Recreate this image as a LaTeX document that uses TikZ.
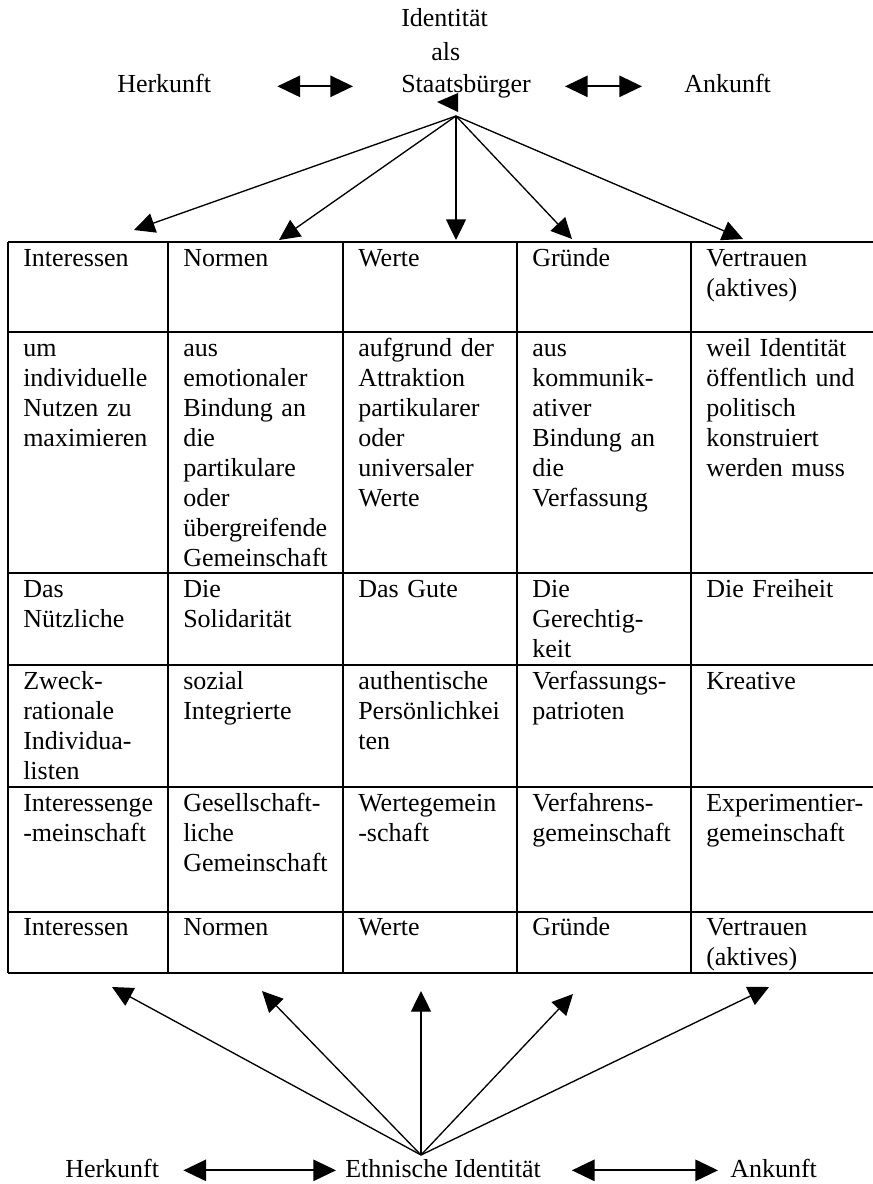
\documentclass[tikz,border=0pt]{standalone}
\usepackage{fontspec}
\setmainfont{Liberation Serif}
\usetikzlibrary{arrows.meta}
\newcommand{\txtsize}{\fontsize{19.5}{22.5}\selectfont}
\tikzset{
  lbl/.style={font=\txtsize, inner sep=0pt, anchor=base west, text height=14pt, text depth=4pt},
  tabcell/.style={font=\txtsize, inner sep=0pt, anchor=base west, text width=125pt, align=left},
  tabline/.style={line width=1.4pt},
  fan/.style={line width=1pt, -{Triangle[length=15.5pt,width=15pt]}},
  dblarrow/.style={line width=1.3pt, {Triangle[length=17pt,width=16pt]}-{Triangle[length=17pt,width=16pt]}}
}
\begin{document}
\begin{tikzpicture}[x=0.75pt,y=0.75pt,yscale=-1,xscale=1]
                \useasboundingbox (0,0) rectangle (872,1184);
                \node[lbl] (idA) at (401,27) {Identität};
                \node[lbl] (idB) at (431,61) {als};
                \node[lbl] (idC) at (401,93) {Staatsbürger};
                \node[lbl] (herkTop) at (117,93) {Herkunft};
                \node[lbl] (ankTop) at (684,93) {Ankunft};
                \draw[dblarrow, shorten <=49.5pt, shorten >=36pt] (herkTop.east) -- (idC.west);
                \draw[dblarrow, shorten <=25.5pt, shorten >=31.5pt] (idC.east) -- (ankTop.west);
                \fill (437,102) -- (458,93) -- (458,112) -- cycle;
                \coordinate (hubTop) at (456,116);
                \coordinate (hi1) at (134,230);
                \coordinate (hi2) at (279,240);
                \coordinate (hi3) at (456,240);
                \coordinate (hi4) at (572,239);
                \coordinate (hi5) at (743,239);
                \draw[fan] (hubTop) -- (hi1);
                \draw[fan] (hubTop) -- (hi2);
                \draw[fan] (hubTop) -- (hi3);
                \draw[fan] (hubTop) -- (hi4);
                \draw[fan] (hubTop) -- (hi5);
                \draw[tabline] (8,242) -- (880,242) (8,332) -- (880,332) (8,573) -- (880,573) (8,665) -- (880,665) (8,787) -- (880,787) (8,912) -- (880,912) (8,973) -- (880,973);
                \draw[tabline] (8,242) -- (8,973) (168,242) -- (168,973) (343,242) -- (343,973) (517,242) -- (517,973) (691,242) -- (691,973);
                \node[tabcell] (intA) at (23,266) {Interessen};
                \node[tabcell] (normA) at (183,266) {Normen};
                \node[tabcell] (wertA) at (358,266) {Werte};
                \node[tabcell] (grundA) at (532,266) {Gründe};
                \node[tabcell] (vertA) at (706,266) {Vertrauen\\(aktives)};
                \node[tabcell] (intB) at (23,356) {um\\individuelle\\Nutzen zu\\maximieren};
                \node[tabcell] (normB) at (183,356) {aus\\emotionaler\\Bindung an\\die\\partikulare\\oder\\übergreifende\\Gemeinschaft};
                \node[tabcell] (wertB) at (358,356) {aufgrund der\\Attraktion\\partikularer\\oder\\universaler\\Werte};
                \node[tabcell] (grundB) at (532,356) {aus\\kommunik-\\ativer\\Bindung an\\die\\Verfassung};
                \node[tabcell] (vertB) at (706,356) {weil Identität\\öffentlich und\\politisch\\konstruiert\\werden muss};
                \node[tabcell] (intC) at (23,597) {Das\\Nützliche};
                \node[tabcell] (normC) at (183,597) {Die\\Solidarität};
                \node[tabcell] (wertC) at (358,597) {Das Gute};
                \node[tabcell] (grundC) at (532,597) {Die\\Gerechtig-\\keit};
                \node[tabcell] (vertC) at (706,597) {Die Freiheit};
                \node[tabcell] (intD) at (23,689) {Zweck-\\rationale\\Individua-\\listen};
                \node[tabcell] (normD) at (183,689) {sozial\\Integrierte};
                \node[tabcell] (wertD) at (358,689) {authentische\\Persönlichkei\\ten};
                \node[tabcell] (grundD) at (532,689) {Verfassungs-\\patrioten};
                \node[tabcell] (vertD) at (706,689) {Kreative};
                \node[tabcell] (intE) at (23,811) {Interessenge\\-meinschaft};
                \node[tabcell] (normE) at (183,811) {Gesellschaft-\\liche\\Gemeinschaft};
                \node[tabcell] (wertE) at (358,811) {Wertegemein\\-schaft};
                \node[tabcell] (grundE) at (532,811) {Verfahrens-\\gemeinschaft};
                \node[tabcell] (vertE) at (706,811) {Experimentier-\\gemeinschaft};
                \node[tabcell] (intF) at (23,935) {Interessen};
                \node[tabcell] (normF) at (183,935) {Normen};
                \node[tabcell] (wertF) at (358,935) {Werte};
                \node[tabcell] (grundF) at (532,935) {Gründe};
                \node[tabcell] (vertF) at (706,935) {Vertrauen\\(aktives)};
                \coordinate (hubBot) at (421,1155);
                \coordinate (lo1) at (112,987);
                \coordinate (lo2) at (262,991);
                \coordinate (lo3) at (421,991);
                \coordinate (lo4) at (573,994);
                \coordinate (lo5) at (769,987);
                \draw[fan] (hubBot) -- (lo1);
                \draw[fan] (hubBot) -- (lo2);
                \draw[fan] (hubBot) -- (lo3);
                \draw[fan] (hubBot) -- (lo4);
                \draw[fan] (hubBot) -- (lo5);
                \node[lbl] (herkBot) at (65,1177) {Herkunft};
                \node[lbl] (ethn) at (345,1177) {Ethnische Identität};
                \node[lbl] (ankBot) at (730,1177) {Ankunft};
                \draw[dblarrow, shorten <=18pt, shorten >=6.75pt] (herkBot.east) -- (ethn.west);
                \draw[dblarrow, shorten <=23pt, shorten >=9pt] (ethn.east) -- (ankBot.west);
            \end{tikzpicture}
\end{document}
